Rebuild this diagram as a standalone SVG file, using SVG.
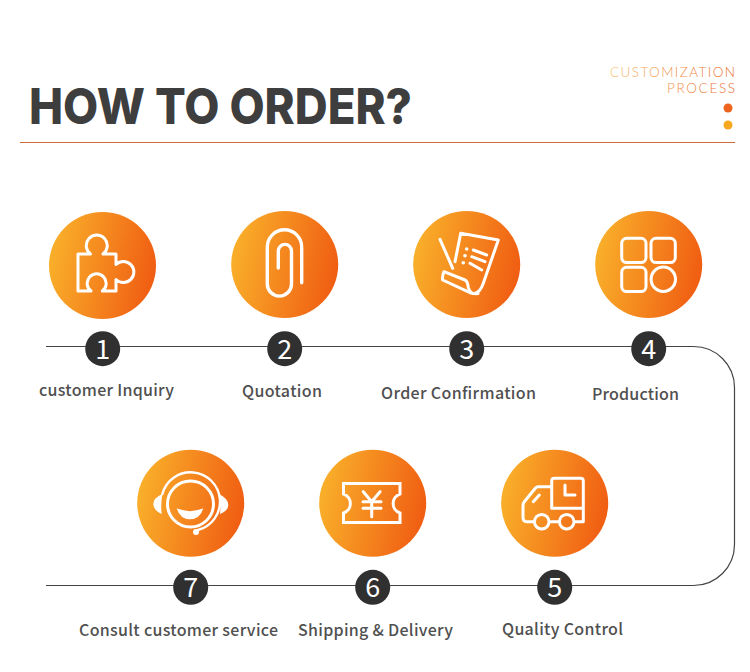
<svg xmlns="http://www.w3.org/2000/svg" width="750" height="672" viewBox="0 0 750 672">
<style>
.lbl{font-family:"Noto Sans CJK SC","Noto Sans",sans-serif;font-weight:500;font-size:16px;fill:#505050}
.num{font-family:"Noto Sans CJK SC","Noto Sans",sans-serif;font-weight:400;font-size:27px;fill:#fff;text-anchor:middle}
.ic{fill:none;stroke:#fff;stroke-width:3;stroke-linecap:round;stroke-linejoin:round}
.sm{fill:#fff}
.bd{fill:#303030}
.sub{font-family:Lato,"Noto Sans",sans-serif;font-weight:300;font-size:13.500px;fill:url(#tg)}
</style>
<defs>
<linearGradient id="og" x1="0" y1="0.4" x2="1" y2="0.6"><stop offset="0" stop-color="#f9b02a"/><stop offset="1" stop-color="#f05c12"/></linearGradient>
<linearGradient id="tg" gradientUnits="userSpaceOnUse" x1="610" y1="0" x2="735" y2="0"><stop offset="0" stop-color="#f9bd6a"/><stop offset="1" stop-color="#e8682c"/></linearGradient>
</defs>
<rect width="750" height="672" fill="#fff"/>
<g id="header">
<text x="29" y="124" font-family="Inter,'Open Sans',sans-serif" font-weight="800" font-size="50" fill="#3e3e3e" textLength="383" lengthAdjust="spacingAndGlyphs">HOW TO ORDER?</text>
<text class="sub" x="610" y="77" textLength="125">CUSTOMIZATION</text>
<text class="sub" x="667" y="93" textLength="68">PROCESS</text>
<circle cx="728" cy="108" r="4.500" fill="#ee641c"/>
<circle cx="728" cy="125" r="4.500" fill="#f6a821"/>
<line x1="20" y1="142.500" x2="735" y2="142.500" stroke="#c96c38" stroke-width="1.200"/>
</g>
<g id="connectors">
<path d="M46 346.500H693.500A41 41 0 0 1 734.500 387.500V544.500A41 41 0 0 1 693.500 585.500H46" fill="none" stroke="#444" stroke-width="1.200"/>
</g>
<g id="node-1">
<circle cx="102.500" cy="265.500" r="53.500" fill="url(#og)"/>
<path class="ic" d="M78 254H90.500A10.500 10.500 0 1 1 103 254H116V264.500A10.500 10.500 0 1 1 116 279.500V291H102.300A9.500 9.500 0 1 0 91 291H78Z"/>
<circle class="bd" cx="102.700" cy="348.700" r="17.500"/>
<text class="num" x="102.700" y="358.500">1</text>
<text class="lbl" x="39" y="396" textLength="135">customer Inquiry</text>
</g>
<g id="node-2">
<circle cx="284.700" cy="264.500" r="53.500" fill="url(#og)"/>
<path class="ic" style="stroke-width:3.400" d="M301.700 282.700V247A17.200 17.200 0 0 0 267.300 247V284A12.100 12.100 0 0 0 291.500 284V251A6.600 6.600 0 0 0 278.300 251V268"/>
<circle class="bd" cx="284.700" cy="348.700" r="17.500"/>
<text class="num" x="284.700" y="358.500">2</text>
<text class="lbl" x="242" y="396.500" textLength="80">Quotation</text>
</g>
<g id="node-3">
<circle cx="466.700" cy="264.500" r="53.500" fill="url(#og)"/>
<path class="ic" d="M455 261.700L460.700 233.300L498.300 240L483.300 283.300Q480 293 474 293.500Q470 293.500 468.300 287.300Q467.500 281 465 280L444 271.700Q442 276 442.700 280L470 292.700Q474 294 478 293.500"/>
<path class="ic" d="M440 239.300L452.700 268.300M473.300 250L486.700 255M471.700 256.700L485 261.700M470 263.300L481.700 270"/>
<circle class="sm" cx="466.700" cy="249" r="1.800"/><circle class="sm" cx="465" cy="255.700" r="1.800"/><circle class="sm" cx="463.300" cy="262.700" r="1.800"/>
<circle class="bd" cx="466.700" cy="348.700" r="17.500"/>
<text class="num" x="466.700" y="358.500">3</text>
<text class="lbl" x="381" y="398.500" textLength="155">Order Confirmation</text>
</g>
<g id="node-4">
<circle cx="648.700" cy="264.500" r="53.500" fill="url(#og)"/>
<rect class="ic" x="621.700" y="238.300" width="24.300" height="24.300" rx="5"/>
<rect class="ic" x="651" y="238.300" width="24.300" height="24.300" rx="5"/>
<rect class="ic" x="621.700" y="267.300" width="24.300" height="24.300" rx="5"/>
<circle class="ic" cx="663.300" cy="279.300" r="12.200"/>
<circle class="bd" cx="648.700" cy="348.700" r="17.500"/>
<text class="num" x="648.700" y="358.500">4</text>
<text class="lbl" x="592" y="399.500" textLength="87">Production</text>
</g>
<g id="node-5">
<circle cx="554.700" cy="503.300" r="53.500" fill="url(#og)"/>
<path class="ic" d="M551.700 481Q551.700 478.300 554.500 478.300H580.500Q583.300 478.300 583.300 481V521.700H575M551.700 481V508.300H583.300M565 485V495H575M551.700 486.700H538Q536.700 486.700 535.500 488L524.500 501.500Q523 503.300 523 505.500V517.500Q523 521.700 527 521.700H534M550 521.700H558M533.300 501.700L539.300 495"/>
<circle class="ic" cx="541.700" cy="521.700" r="7.300"/>
<circle class="ic" cx="566.700" cy="521.700" r="7.300"/>
<circle class="bd" cx="554.700" cy="587.300" r="17.500"/>
<text class="num" x="554.700" y="597">5</text>
<text class="lbl" x="502" y="635" textLength="121">Quality Control</text>
</g>
<g id="node-6">
<circle cx="372.700" cy="503.300" r="53.500" fill="url(#og)"/>
<path class="ic" style="stroke-linecap:butt;stroke-linejoin:miter" d="M343.500 483.500H400V494A10 10 0 0 0 400 513V522.500H343.500V513A10 10 0 0 0 343.500 494Z"/>
<path class="ic" d="M363.300 491.700L371.700 501.700L380 491.700M371.700 501.700V516.700M363 501.700H381M363 508.300H381"/>
<circle class="bd" cx="372.700" cy="587.300" r="17.500"/>
<text class="num" x="372.700" y="597">6</text>
<text class="lbl" x="298" y="636" textLength="155">Shipping &amp; Delivery</text>
</g>
<g id="node-7">
<circle cx="190.700" cy="503.300" r="53.500" fill="url(#og)"/>
<circle class="ic" cx="190.500" cy="504" r="23"/>
<path class="ic" style="stroke-width:2.400" d="M162.400 494A29.300 29.300 0 1 1 198 530"/>
<path class="sm" d="M162.400 494Q153.300 498 153.300 504Q153.300 510 161.700 514Q160.500 504 162.400 494Z"/>
<path class="sm" d="M219 494Q228.300 498.500 228.300 505Q228.300 510.500 220 514Q221 504 219 494Z"/>
<path class="sm" d="M176.700 508.300Q190 514 203.300 508.300Q200 519.300 190 519.300Q180 519.300 176.700 508.300Z"/>
<circle class="sm" cx="196" cy="532" r="3"/>
<circle class="bd" cx="190.700" cy="587.300" r="17.500"/>
<text class="num" x="190.700" y="597">7</text>
<text class="lbl" x="79" y="636" textLength="199">Consult customer service</text>
</g>
</svg>
